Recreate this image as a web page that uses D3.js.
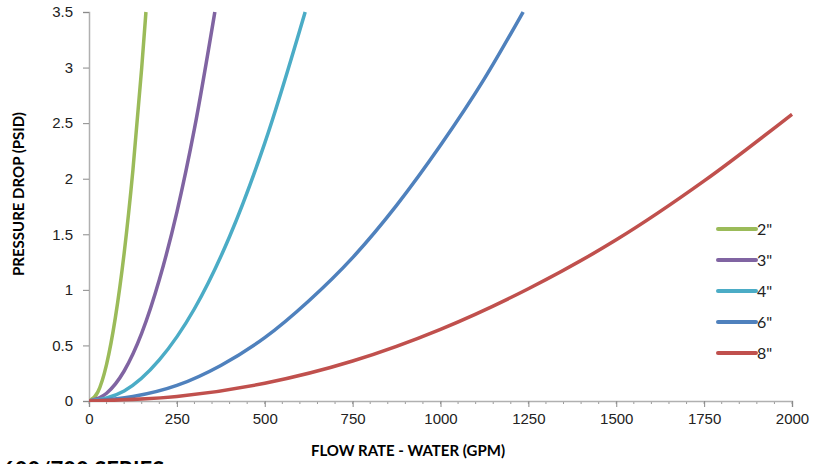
<!DOCTYPE html>
<html>
<head>
<meta charset="utf-8">
<script src="https://cdn.jsdelivr.net/npm/d3@7"></script>
<style>
  body { margin: 0; background: #fff; }
  svg { font-family: Lato, "Open Sans", sans-serif; }
  .tick text { font-size: 15px; fill: #222; }
  .axis-title { font-size: 15px; font-weight: bold; fill: #000; }
</style>
</head>
<body>
<div id="diagram"></div>
<script>
// flow rate (GPM) / pressure drop (PSID)
const sizes = ["2\"", "3\"", "4\"", "6\"", "8\""];
const colors = ["#9bbb59", "#8064a2", "#4bacc6", "#4f81bd", "#c0504d"];

const flow2 = [0, 25, 50, 75, 100, 125, 150, 162];
const drop2 = [0, 0.08, 0.33, 0.75, 1.33, 2.08, 3.0, 3.5];

const flow3 = [0, 50, 100, 150, 200, 250, 300, 358];
const drop3 = [0, 0.07, 0.27, 0.61, 1.09, 1.7, 2.45, 3.5];

const flow4 = [0, 100, 200, 300, 400, 500, 615];
const drop4 = [0, 0.09, 0.37, 0.83, 1.48, 2.32, 3.5];

const flow6 = [0, 125, 250, 375, 500, 625, 750, 875, 1000, 1125, 1235];
const drop6 = [0, 0.04, 0.14, 0.32, 0.57, 0.9, 1.29, 1.76, 2.3, 2.9, 3.5];

const flow8 = [0, 250, 500, 750, 1000, 1250, 1500, 1750, 2000];
const drop8 = [0, 0.04, 0.16, 0.36, 0.645, 1.01, 1.45, 1.98, 2.58];

const xTicks = [0, 250, 500, 750, 1000, 1250, 1500, 1750, 2000];
const xMinor = d3.range(0, 2001, 50);
const yTicks = [0, 0.5, 1, 1.5, 2, 2.5, 3, 3.5];

const series = [
  [flow2, drop2], [flow3, drop3], [flow4, drop4], [flow6, drop6], [flow8, drop8]
].map(function(s, i) {
  return { name: sizes[i], color: colors[i],
    points: s[0].map(function(q, j) { return [q, s[1][j]]; }) };
});

var margin = { top: 12, right: 26, bottom: 63, left: 89 };
var width = 818 - margin.left - margin.right;
var height = 464 - margin.top - margin.bottom;

var svg = d3.select("#diagram").append("svg")
  .attr("width", 818)
  .attr("height", 464);

var chart = svg.append("g")
  .attr("transform", "translate(" + margin.left + "," + margin.top + ")");

var x = d3.scaleLinear().domain([0, 2000]).range([0, width]);
var y = d3.scaleLinear().domain([0, 3.5]).range([height, 0]);

// clip so steep curves stop at the top of the plot
chart.append("clipPath").attr("id", "plot")
  .append("rect").attr("x", 0).attr("y", -1).attr("width", width + 2).attr("height", height + 2);

// minor ticks on x axis
chart.append("g")
  .attr("transform", "translate(0," + height + ")")
  .selectAll("line")
  .data(xMinor)
  .enter().append("line")
  .attr("x1", function(d) { return x(d); })
  .attr("x2", function(d) { return x(d); })
  .attr("y1", 0).attr("y2", 3)
  .attr("stroke", "#9a9a9a");

var xAxis = chart.append("g")
  .attr("transform", "translate(0," + height + ")")
  .call(d3.axisBottom(x).tickValues(xTicks).tickSize(6).tickPadding(6).tickFormat(d3.format("d")));

var yAxis = chart.append("g")
  .call(d3.axisLeft(y).tickValues(yTicks).tickSize(6).tickPadding(10).tickFormat(function(d) { return d; }));

[xAxis, yAxis].forEach(function(a) {
  a.select(".domain").attr("stroke", "#b0b0b0").attr("stroke-width", 1.5);
  a.selectAll(".tick line").attr("stroke", "#8a8a8a");
});

var line = d3.line()
  .x(function(d) { return x(d[0]); })
  .y(function(d) { return y(d[1]); })
  .curve(d3.curveMonotoneX);

chart.append("g").attr("clip-path", "url(#plot)")
  .selectAll(".curve")
  .data(series)
  .enter().append("path")
  .attr("class", "curve")
  .attr("fill", "none")
  .attr("stroke", function(d) { return d.color; })
  .attr("stroke-width", 3.5)
  .attr("d", function(d) { return line(d.points); });

// legend
var legend = svg.append("g")
  .selectAll(".legend")
  .data(series)
  .enter().append("g")
  .attr("class", "legend")
  .attr("transform", function(d, i) { return "translate(718," + (229 + i * 31) + ")"; });

legend.append("line")
  .attr("x1", 0).attr("x2", 38)
  .attr("stroke", function(d) { return d.color; })
  .attr("stroke-width", 4)
  .attr("stroke-linecap", "round");

legend.append("text")
  .attr("x", 39).attr("y", 6)
  .style("font-size", "16px")
  .attr("fill", "#222")
  .text(function(d) { return d.name; });

// axis titles
svg.append("text")
  .attr("class", "axis-title")
  .attr("text-anchor", "middle")
  .attr("transform", "translate(24,194) rotate(-90)")
  .text("PRESSURE DROP (PSID)");

svg.append("text")
  .attr("class", "axis-title")
  .attr("text-anchor", "middle")
  .attr("x", 408).attr("y", 456)
  .text("FLOW RATE - WATER (GPM)");

svg.append("text")
  .attr("x", 2).attr("y", 478)
  .style("font-size", "22px")
  .style("font-weight", "bold")
  .attr("fill", "#000")
  .text("600/700 SERIES");
</script>
</body>
</html>
